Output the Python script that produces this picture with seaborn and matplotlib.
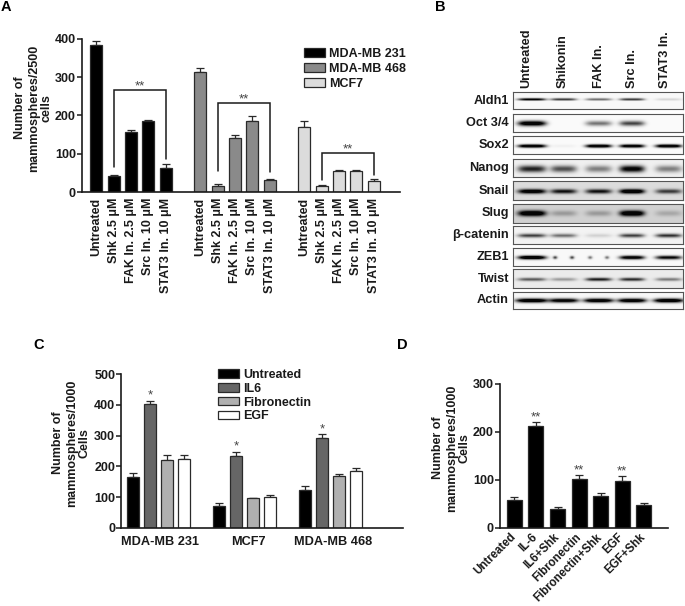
import numpy as np
import pandas as pd
import matplotlib
matplotlib.use("Agg")
import matplotlib.pyplot as plt
import seaborn as sns

sns.set_theme(style="white")
plt.rcParams["font.family"] = ["Liberation Sans", "DejaVu Sans"]
plt.rcParams["font.weight"] = "bold"

W, H = 685, 606
INK = "#1a1a1a"

# ---- Panel A data
a_treatments = ["Untreated", "Shk 2.5 μM", "FAK In. 2.5 μM", "Src In. 10 μM", "STAT3 In. 10 μM"]
a_groups = ["MDA-MB 231", "MDA-MB 468", "MCF7"]
a_231 = [384, 42, 157, 184, 62]
a_231_err = [10, 2, 5, 5, 12]
a_468 = [314, 16, 141, 186, 32]
a_468_err = [10, 4, 7, 12, 2]
a_mcf7 = [170, 16, 55, 54, 30]
a_mcf7_err = [14, 2, 2, 3, 4]
a_colors = ["#000000", "#8a8a8a", "#dcdcdc"]
a_brackets = [(266, 65, 86), (233, 55, 53), (101, 31, 45)]

# ---- Panel B data
blot_proteins = ["Aldh1", "Oct 3/4", "Sox2", "Nanog", "Snail", "Slug", "β-catenin", "ZEB1", "Twist", "Actin"]
blot_lanes = ["Untreated", "Shikonin", "FAK In.", "Src In.", "STAT3 In."]
aldh1 = [0.75, 0.55, 0.40, 0.55, 0.10]
oct34 = [0.95, 0.00, 0.40, 0.55, 0.00]
sox2 = [0.95, 0.03, 0.95, 0.90, 0.95]
nanog = [0.65, 0.50, 0.35, 0.80, 0.35]
snail = [0.90, 0.70, 0.70, 1.00, 0.55]
slug = [1.00, 0.20, 0.20, 1.00, 0.15]
bcat = [0.55, 0.40, 0.10, 0.55, 0.60]
zeb1 = [1.00, 0.70, 0.50, 0.85, 0.75]
twist = [0.45, 0.25, 0.65, 0.60, 0.35]
actin = [1.00, 0.90, 0.95, 0.95, 1.00]
blot_values = [aldh1, oct34, sox2, nanog, snail, slug, bcat, zeb1, twist, actin]

# ---- Panel C data
c_groups = ["MDA-MB 231", "MCF7", "MDA-MB 468"]
c_treatments = ["Untreated", "IL6", "Fibronectin", "EGF"]
c_231 = [165, 402, 222, 224]
c_231_err = [12, 12, 14, 14]
c_mcf7 = [70, 234, 96, 99]
c_mcf7_err = [10, 14, 2, 9]
c_468 = [124, 294, 167, 184]
c_468_err = [12, 10, 9, 12]
c_colors = ["#000000", "#666666", "#b0b0b0", "#ffffff"]

# ---- Panel D data
d_labels = ["Untreated", "IL-6", "IL6+Shk", "Fibronectin", "Fibronectin+Shk", "EGF", "EGF+Shk"]
d_values = [58, 212, 39, 101, 66, 98, 48]
d_err = [5, 9, 4, 8, 6, 9, 4]
d_stars = ["", "**", "", "**", "", "**", ""]


fig = plt.figure(figsize=(W / 100, H / 100), dpi=100, facecolor="white")


def add_axes(l, t, r, b):
    return fig.add_axes([l / W, 1 - b / H, (r - l) / W, (b - t) / H])


def style_axis(ax, yticks, ymax, l, r, x0, step, fs=9.0):
    ax.set_xlim((l - x0) / step, (r - x0) / step)
    ax.set_ylim(0, ymax)
    ax.set_yticks(yticks)
    ax.set_yticklabels([str(v) for v in yticks], fontsize=fs, fontweight="bold", color=INK)
    ax.tick_params(axis="y", length=3.4, width=1.1, color=INK, pad=1.0, left=True)
    ax.tick_params(axis="x", length=0, bottom=False)
    for s in ("top", "right"):
        ax.spines[s].set_visible(False)
    for s in ("left", "bottom"):
        ax.spines[s].set_visible(True)
        ax.spines[s].set_linewidth(1.2)
        ax.spines[s].set_color(INK)
    ax.set_xlabel("")
    ax.patch.set_alpha(0)


def ylabel(ax, text, px, py, l, t, r, b, fs=9.0):
    ax.set_ylabel(text, fontsize=fs, fontweight="bold", color=INK, linespacing=1.15)
    ax.yaxis.set_label_coords((px + 20 - l) / (r - l), (b - py) / (b - t))


def letter(s, x, y):
    fig.text(x / W, 1 - y / H, s, fontsize=10.5, fontweight="bold", color="black", va="center", ha="left")


def bars(ax, df, palette, order, width):
    sns.barplot(data=df, x="pos", y="value", hue="group", hue_order=order, palette=palette,
                native_scale=True, dodge=False, width=width, errorbar=None,
                edgecolor="#2a2a2a", linewidth=0.9, ax=ax, legend=True, zorder=2)
    ax.errorbar(df["pos"], df["value"], yerr=[np.zeros(len(df)), df["err"]], fmt="none",
                ecolor="#2a2a2a", elinewidth=0.9, capsize=2.6, capthick=0.9, zorder=1)


def legend(ax, x, y, rowgap, fs=9.0):
    h, lab = ax.get_legend_handles_labels()
    ax.legend(h, lab, loc="upper left", bbox_to_anchor=(x / W, 1 - y / H), bbox_transform=fig.transFigure,
              frameon=False, fontsize=fs, handlelength=1.7, handleheight=0.65, handletextpad=0.3,
              labelspacing=rowgap, borderaxespad=0, borderpad=0, labelcolor=INK)


# ---- Panel A
al, at, ar, ab = 82, 38.7, 400, 192
a_step = 17.33
axA = add_axes(al, at, ar, ab)
a_rows = []
for gi, (g, vals, errs) in enumerate(zip(a_groups, [a_231, a_468, a_mcf7], [a_231_err, a_468_err, a_mcf7_err])):
    for ti, (v, e) in enumerate(zip(vals, errs)):
        a_rows.append({"pos": gi * 6 + ti, "value": v, "err": e, "group": g, "lab": a_treatments[ti]})
dfA = pd.DataFrame(a_rows)
bars(axA, dfA, dict(zip(a_groups, a_colors)), a_groups, 0.69)
style_axis(axA, [0, 100, 200, 300, 400], 400, al, ar, 96.3, a_step)
axA.set_xticks(dfA["pos"])
axA.set_xticklabels(dfA["lab"], rotation=90, fontsize=9.0, fontweight="bold", color=INK, ha="center", va="top")
axA.tick_params(axis="x", pad=4)
ylabel(axA, "Number of\nmammospheres/2500\ncells", 33, 108, al, at, ar, ab)
legend(axA, 304, 48, 0.24)
for gi, (top, lo, hi) in enumerate(a_brackets):
    x1, x2 = gi * 6 + 1, gi * 6 + 4
    axA.plot([x1, x1, x2, x2], [lo, top, top, hi], color=INK, lw=1.1, zorder=4, solid_joinstyle="miter")
    axA.text((x1 + x2) / 2, top - 6, "**", ha="center", va="bottom", fontsize=9.5, color="#444444", fontweight="normal")

# ---- Panel B
blot_x0, blot_x1 = 512.7, 683
blot_rows = [(91.7, 109.3), (113.7, 132.3), (136.3, 154.3), (158.7, 176.7), (181, 200),
             (204, 222.7), (225.7, 244.3), (247.7, 266), (269.3, 288.3), (291.7, 309.3)]
blot_bg = [0.97, 0.98, 0.98, 0.94, 0.86, 0.82, 0.95, 0.97, 0.92, 0.97]
blot_sigma = [1.3, 2.8, 1.7, 3.4, 2.3, 2.9, 2.2, 1.9, 1.7, 2.3]
blot_band_y = [0.42, 0.52, 0.53, 0.55, 0.52, 0.50, 0.53, 0.52, 0.52, 0.50]
lane_cx = [531.7, 563.3, 598.3, 631.7, 668.3]
lane_hw = [14, 13, 13, 12.5, 13]
blot_label_x = 509
for name, lane_vals, (t, b), bg, sig, fy in zip(blot_proteins, blot_values, blot_rows, blot_bg, blot_sigma, blot_band_y):
    axB = add_axes(blot_x0, t, blot_x1, b)
    sx = np.arange(blot_x0, blot_x1, 0.5)
    sy = np.arange(t, b, 0.5)
    X, Y = np.meshgrid(sx, sy)
    img = np.full(X.shape, 1.0)
    yc = t + fy * (b - t)
    for li, (cx, hw, v) in enumerate(zip(lane_cx, lane_hw, lane_vals)):
        if name == "ZEB1" and li in (1, 2):
            # these lanes show two separate specks rather than a full band
            for dx in (-0.65, 0.65):
                prof = np.exp(-(((X - cx - dx * hw) / 2.2) ** 2)) * np.exp(-(((Y - yc) / 1.6) ** 2))
                img *= 1 - np.clip(v, 0, 1) * prof
            continue
        grow = 1.15 if name == "Actin" else 1.0
        prof = np.exp(-(((X - cx) / (hw * grow)) ** 4)) * np.exp(-(((Y - yc) / sig) ** 2))
        img *= 1 - np.clip(1.35 * v * prof, 0, 0.98)
    sns.heatmap(img * bg, cmap="gray", vmin=0, vmax=1, cbar=False, xticklabels=False, yticklabels=False,
                ax=axB, rasterized=True)
    for sp in axB.spines.values():
        sp.set_visible(True)
        sp.set_color("#555555")
        sp.set_linewidth(0.8)
    fig.text(blot_label_x / W, 1 - (t + b) / 2 / H, name, ha="right", va="center", fontsize=9.2,
             fontweight="bold", color=INK)
for lab, x in zip(blot_lanes, [526.7, 563, 599, 632, 665]):
    fig.text(x / W, 1 - 88.5 / H, lab, rotation=90, ha="center", va="bottom", fontsize=9.2,
             fontweight="bold", color=INK)

# ---- Panel C
cl, ct, cr, cb = 121.3, 374.3, 403, 527.7
c_step = 17.2
axC = add_axes(cl, ct, cr, cb)
c_rows = []
for gi, (vals, errs) in enumerate(zip([c_231, c_mcf7, c_468], [c_231_err, c_mcf7_err, c_468_err])):
    for ti, (v, e) in enumerate(zip(vals, errs)):
        c_rows.append({"pos": gi * 5 + ti, "value": v, "err": e, "group": c_treatments[ti]})
dfC = pd.DataFrame(c_rows)
bars(axC, dfC, dict(zip(c_treatments, c_colors)), c_treatments, 0.70)
style_axis(axC, [0, 100, 200, 300, 400, 500], 500, cl, cr, 132.7, c_step)
axC.set_xticks([1.6, 6.7, 11.65])
axC.set_xticklabels(c_groups, fontsize=9.2, fontweight="bold", color=INK)
axC.tick_params(axis="x", pad=6)
ylabel(axC, "Number of\nmammospheres/1000\nCells", 71, 443, cl, ct, cr, cb)
legend(axC, 218, 369, 0.14)
for gi, (vals, errs) in enumerate(zip([c_231, c_mcf7, c_468], [c_231_err, c_mcf7_err, c_468_err])):
    axC.text(gi * 5 + 1, vals[1] + errs[1] - 4, "*", ha="center", va="bottom", fontsize=9.5,
             color="#444444", fontweight="normal")

# ---- Panel D
dl, dt, dr, db = 500, 383.7, 668, 527.7
d_step = 21.6
axD = add_axes(dl, dt, dr, db)
dfD = pd.DataFrame({"pos": np.arange(len(d_labels)), "value": d_values, "err": d_err, "group": "all"})
bars(axD, dfD, {"all": "#000000"}, ["all"], 0.69)
axD.get_legend().remove()
style_axis(axD, [0, 100, 200, 300], 300, dl, dr, 514.3, d_step)
axD.set_xticks(dfD["pos"])
axD.set_xticklabels(d_labels, rotation=45, ha="right", va="center", rotation_mode="anchor", fontsize=8.3,
                    fontweight="bold", color=INK)
axD.tick_params(axis="x", pad=5.5)
ylabel(axD, "Number of\nmammospheres/1000\nCells", 451, 448, dl, dt, dr, db)
for i, s in enumerate(d_stars):
    if s:
        axD.text(i, d_values[i] + d_err[i] - 3, s, ha="center", va="bottom", fontsize=9.5,
                 color="#444444", fontweight="normal")

letter("A", 1, 7)
letter("B", 435, 7)
letter("C", 33, 345)
letter("D", 397, 345)

fig.savefig("out.png", dpi=100, facecolor="white")
